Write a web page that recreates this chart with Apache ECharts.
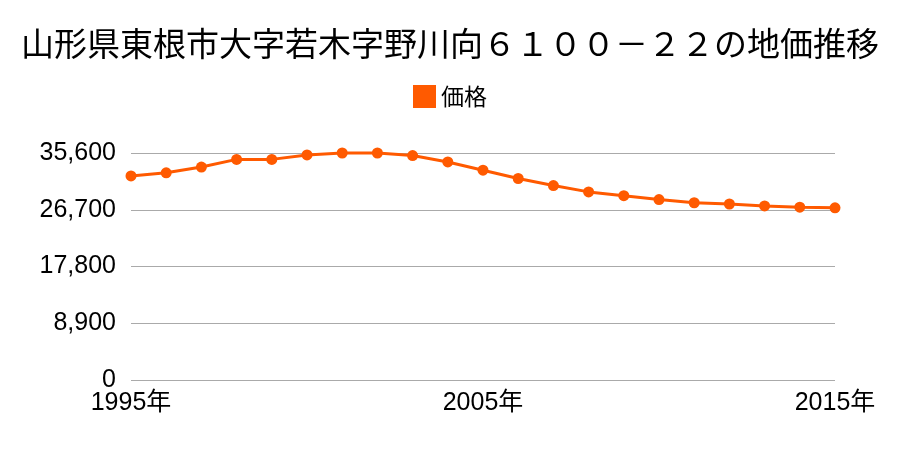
<!DOCTYPE html>
<html><head><meta charset="utf-8">
<script src="https://cdn.jsdelivr.net/npm/echarts@6/dist/echarts.min.js"></script>
<style>html,body{margin:0;padding:0;background:#fff}#c{width:900px;height:450px}</style>
</head><body><div id="c"></div>
<script>
const years = ['1995','1996','1997','1998','1999','2000','2001','2002','2003','2004','2005','2006','2007','2008','2009','2010','2011','2012','2013','2014','2015'];
const prices = [32000,32500,33400,34600,34600,35300,35600,35600,35200,34200,32900,31600,30500,29500,28900,28300,27800,27600,27300,27100,27000];
const yTicks = [0,8900,17800,26700,35600];
const title = '山形県東根市大字若木字野川向６１００－２２の地価推移';
const seriesName = '価格';

const cjk = '"Noto Sans CJK JP", sans-serif';
const num = '"Liberation Sans", "Noto Sans CJK JP", sans-serif';
const chart = echarts.init(document.getElementById('c'));
chart.setOption({
  animation:false,
  title:{text:title,left:'center',top:22,textStyle:{fontFamily:cjk,fontSize:33,fontWeight:'normal',color:'#000'}},
  legend:{data:[{name:seriesName,icon:'rect'}],top:80,left:'center',itemWidth:23,itemHeight:23,itemGap:12,
    textStyle:{fontFamily:cjk,fontSize:23,color:'#000'}},
  grid:{left:131,right:65,top:153,bottom:70},
  xAxis:{type:'category',data:years,boundaryGap:false,
    axisLine:{show:false},axisTick:{show:false},
    axisLabel:{interval:9,formatter:v=>v+'年',fontFamily:num,fontSize:25,color:'#000',margin:11}},
  yAxis:{type:'value',min:yTicks[0],max:yTicks[yTicks.length-1],interval:yTicks[1]-yTicks[0],
    axisLine:{show:false},axisTick:{show:false},
    splitLine:{lineStyle:{color:'#aaa',width:1}},
    axisLabel:{fontFamily:num,fontSize:25,color:'#000',margin:15,formatter:v=>v.toLocaleString('en-US')}},
  series:[{name:seriesName,type:'line',data:prices,symbol:'circle',symbolSize:11,clip:false,
    lineStyle:{color:'#ff5a00',width:3},itemStyle:{color:'#ff5a00'}}]
});
</script></body></html>
